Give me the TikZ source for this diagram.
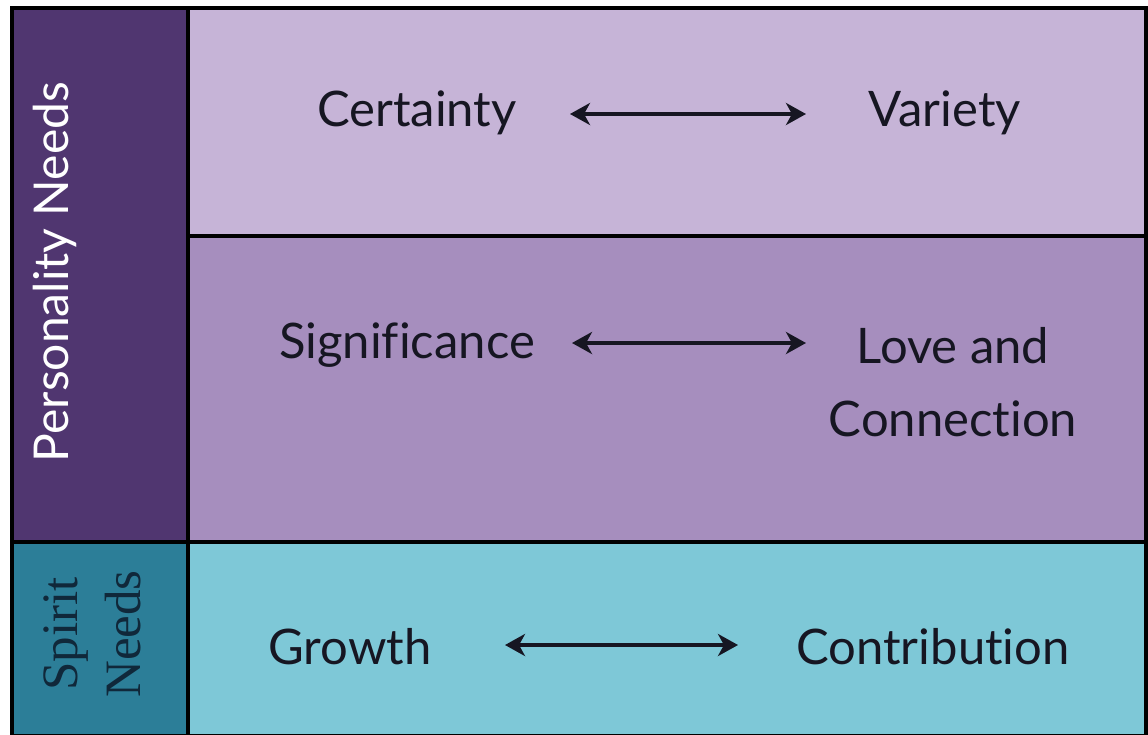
\documentclass[tikz,border=0pt]{standalone}
\usepackage{fontspec}
\setmainfont[Ligatures=NoCommon]{Lato}
\newfontfamily\serifspirit{Liberation Serif}
\usetikzlibrary{arrows.meta}
\definecolor{pdark}{HTML}{503670}
\definecolor{ptop}{HTML}{C6B4D7}
\definecolor{pmid}{HTML}{A68EBE}
\definecolor{cyanrow}{HTML}{7EC8D7}
\definecolor{tealcol}{HTML}{2C7E98}
\definecolor{ink}{HTML}{161622}
\definecolor{spiritink}{HTML}{10283A}
\tikzset{
  cell/.style={draw=black,line width=4.5pt},
  lbl/.style={text=ink,font=\fontsize{49}{73}\selectfont,inner sep=0pt},
  biarrow/.style={{Stealth[length=20pt,width=22pt,inset=6pt]}-{Stealth[length=20pt,width=22pt,inset=6pt]},line width=3.5pt,draw=ink}
}
\begin{document}
\begin{tikzpicture}[x=1pt,y=-1pt]
\useasboundingbox (0,0) rectangle (1148,734);
\fill[white] (0,0) rectangle (1148,734);
% cells
\filldraw[cell,fill=pdark] (12,8) rectangle (188,542);
\filldraw[cell,fill=tealcol] (12,542) rectangle (188,736);
\filldraw[cell,fill=ptop] (188,8) rectangle (1146,236);
\filldraw[cell,fill=pmid] (188,236) rectangle (1146,542);
\filldraw[cell,fill=cyanrow] (188,542) rectangle (1146,736);
% side labels
\node[rotate=90,text=white,font=\fontsize{48}{54}\selectfont,inner sep=0pt] (pn) at (55,272) {Personality Needs};
\node[rotate=90,text=spiritink,font=\serifspirit\fontsize{51}{63}\selectfont,align=center,inner sep=0pt] (sn) at (92,634) {Spirit\\Needs};
% row 1
\node[lbl] (cert) at (417,113) {Certainty};
\node[lbl] (var) at (945,113) {Variety};
\coordinate (a1l) at (570,114);
\coordinate (a1r) at (806,114);
\draw[biarrow] (a1l) -- (a1r);
% row 2
\node[lbl] (sig) at (407,345) {Significance};
\node[lbl,align=center] (love) at (953,382) {Love and\\Connection};
\coordinate (a2l) at (572,343);
\coordinate (a2r) at (806,343);
\draw[biarrow] (a2l) -- (a2r);
% row 3
\node[lbl] (grow) at (350,647) {Growth};
\node[lbl] (contr) at (933,647) {Contribution};
\coordinate (a3l) at (505,645);
\coordinate (a3r) at (738,645);
\draw[biarrow] (a3l) -- (a3r);
\end{tikzpicture}
\end{document}
